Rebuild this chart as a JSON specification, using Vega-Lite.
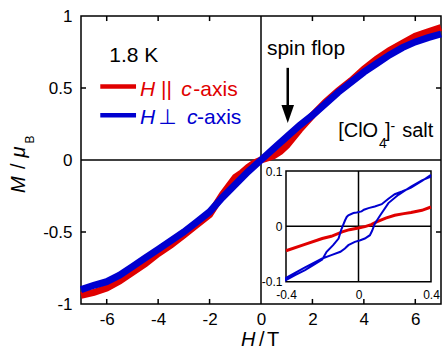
{
  "$schema": "https://vega.github.io/schema/vega-lite/v6.json",
  "width": 360,
  "height": 288,
  "autosize": {"type": "none"},
  "padding": {"left": 81, "top": 16, "right": 4, "bottom": 53},
  "background": "white",
  "config": {
    "locale": {"number": {"decimal": ".", "thousands": ",", "grouping": [3], "currency": ["$", ""], "minus": "-"}},
    "view": {"stroke": "black", "strokeWidth": 1.5},
    "font": "Liberation Sans",
    "axis": {"grid": false, "ticks": false, "domain": false, "labelColor": "black", "labelFont": "Liberation Sans", "labelFlush": false, "labelOverlap": false, "title": null, "format": "~g"}
  },
  "datasets": {
    "red": [
      {"H": -7, "M": -0.94}, {"H": -6.5, "M": -0.92}, {"H": -6, "M": -0.89}, {"H": -5.5, "M": -0.84},
      {"H": -5, "M": -0.78}, {"H": -4.5, "M": -0.72}, {"H": -4, "M": -0.65}, {"H": -3.5, "M": -0.59},
      {"H": -3, "M": -0.52}, {"H": -2.5, "M": -0.45}, {"H": -2, "M": -0.38}, {"H": -1.5, "M": -0.24},
      {"H": -1, "M": -0.12}, {"H": -0.75, "M": -0.09}, {"H": -0.5, "M": -0.05}, {"H": -0.25, "M": -0.02},
      {"H": 0, "M": 0}, {"H": 0.25, "M": 0.015}, {"H": 0.5, "M": 0.03}, {"H": 0.75, "M": 0.06},
      {"H": 1, "M": 0.1}, {"H": 1.5, "M": 0.21}, {"H": 2, "M": 0.31}, {"H": 2.5, "M": 0.4},
      {"H": 3, "M": 0.48}, {"H": 3.5, "M": 0.55}, {"H": 4, "M": 0.63}, {"H": 4.5, "M": 0.7},
      {"H": 5, "M": 0.76}, {"H": 5.5, "M": 0.81}, {"H": 6, "M": 0.86}, {"H": 6.5, "M": 0.89}, {"H": 7, "M": 0.92}
    ],
    "blue": [
      {"H": -7, "M": -0.9}, {"H": -6.5, "M": -0.87}, {"H": -6, "M": -0.845}, {"H": -5.5, "M": -0.8},
      {"H": -5, "M": -0.74}, {"H": -4.5, "M": -0.68}, {"H": -4, "M": -0.62}, {"H": -3.5, "M": -0.56},
      {"H": -3, "M": -0.5}, {"H": -2.5, "M": -0.43}, {"H": -2, "M": -0.36}, {"H": -1.5, "M": -0.26},
      {"H": -1, "M": -0.17}, {"H": -0.5, "M": -0.08}, {"H": 0, "M": 0}, {"H": 0.5, "M": 0.08},
      {"H": 1, "M": 0.16}, {"H": 1.5, "M": 0.24}, {"H": 2, "M": 0.31}, {"H": 2.5, "M": 0.39},
      {"H": 3, "M": 0.47}, {"H": 3.5, "M": 0.54}, {"H": 4, "M": 0.61}, {"H": 4.5, "M": 0.67},
      {"H": 5, "M": 0.73}, {"H": 5.5, "M": 0.78}, {"H": 6, "M": 0.82}, {"H": 6.5, "M": 0.85}, {"H": 7, "M": 0.875}
    ],
    "ired": [
      {"i": 0, "h": -0.4, "m": -0.044}, {"i": 1, "h": -0.3, "m": -0.033}, {"i": 2, "h": -0.2, "m": -0.022},
      {"i": 3, "h": -0.15, "m": -0.018}, {"i": 4, "h": -0.09, "m": -0.01}, {"i": 5, "h": -0.05, "m": -0.006},
      {"i": 6, "h": 0, "m": -0.003}, {"i": 7, "h": 0.04, "m": 0.0}, {"i": 8, "h": 0.07, "m": 0.003},
      {"i": 9, "h": 0.1, "m": 0.008}, {"i": 10, "h": 0.15, "m": 0.015}, {"i": 11, "h": 0.2, "m": 0.02},
      {"i": 12, "h": 0.25, "m": 0.023}, {"i": 13, "h": 0.29, "m": 0.025}, {"i": 14, "h": 0.35, "m": 0.029},
      {"i": 15, "h": 0.4, "m": 0.035}
    ],
    "iblue": [
      {"i": 0, "h": 0.4, "m": 0.093}, {"i": 1, "h": 0.35, "m": 0.082}, {"i": 2, "h": 0.29, "m": 0.07},
      {"i": 3, "h": 0.24, "m": 0.063}, {"i": 4, "h": 0.2, "m": 0.058}, {"i": 5, "h": 0.165, "m": 0.05},
      {"i": 6, "h": 0.128, "m": 0.04}, {"i": 7, "h": 0.09, "m": 0.036}, {"i": 8, "h": 0.055, "m": 0.033},
      {"i": 9, "h": 0.03, "m": 0.03}, {"i": 10, "h": 0.017, "m": 0.027}, {"i": 11, "h": -0.01, "m": 0.025},
      {"i": 12, "h": -0.028, "m": 0.024}, {"i": 13, "h": -0.056, "m": 0.02}, {"i": 14, "h": -0.065, "m": 0.017},
      {"i": 15, "h": -0.074, "m": 0.011}, {"i": 16, "h": -0.085, "m": 0.002}, {"i": 17, "h": -0.095, "m": -0.006},
      {"i": 18, "h": -0.11, "m": -0.022}, {"i": 19, "h": -0.14, "m": -0.034}, {"i": 20, "h": -0.176, "m": -0.046},
      {"i": 21, "h": -0.2, "m": -0.06}, {"i": 22, "h": -0.25, "m": -0.07}, {"i": 23, "h": -0.295, "m": -0.079},
      {"i": 24, "h": -0.35, "m": -0.088}, {"i": 25, "h": -0.4, "m": -0.097}, {"i": 26, "h": -0.4, "m": -0.093},
      {"i": 27, "h": -0.3, "m": -0.075}, {"i": 28, "h": -0.2, "m": -0.058}, {"i": 29, "h": -0.15, "m": -0.052},
      {"i": 30, "h": -0.1, "m": -0.046}, {"i": 31, "h": -0.075, "m": -0.04}, {"i": 32, "h": -0.056, "m": -0.034},
      {"i": 33, "h": -0.02, "m": -0.028}, {"i": 34, "h": 0.01, "m": -0.025}, {"i": 35, "h": 0.035, "m": -0.022},
      {"i": 36, "h": 0.063, "m": -0.016}, {"i": 37, "h": 0.075, "m": -0.008}, {"i": 38, "h": 0.09, "m": 0.005},
      {"i": 39, "h": 0.12, "m": 0.02}, {"i": 40, "h": 0.165, "m": 0.042}, {"i": 41, "h": 0.22, "m": 0.057},
      {"i": 42, "h": 0.29, "m": 0.072}, {"i": 43, "h": 0.35, "m": 0.083}, {"i": 44, "h": 0.4, "m": 0.09}
    ],
    "ticksX": [{"H": -6}, {"H": -4}, {"H": -2}, {"H": 2}, {"H": 4}, {"H": 6}],
    "ticksY": [{"M": -0.5}, {"M": 0.5}]
  },
  "layer": [
    {
      "data": {"values": [{"H": 0, "M": 0}]},
      "mark": {"type": "rule", "color": "black", "strokeWidth": 1.5},
      "encoding": {
        "x": {"field": "H", "type": "quantitative", "scale": {"domain": [-7, 7], "nice": false, "zero": false},
          "axis": {"orient": "bottom", "values": [-6, -4, -2, 0, 2, 4, 6], "labelFontSize": 17, "labelPadding": 7}},
        "y": {"datum": -1, "type": "quantitative", "scale": {"domain": [-1, 1], "nice": false, "zero": false},
          "axis": {"orient": "left", "values": [-1, -0.5, 0, 0.5, 1], "labelFontSize": 17, "labelPadding": 9}},
        "y2": {"datum": 1}
      }
    },
    {
      "data": {"values": [{"H": 0, "M": 0}]},
      "mark": {"type": "rule", "color": "black", "strokeWidth": 1.5},
      "encoding": {
        "y": {"field": "M", "type": "quantitative", "scale": {"domain": [-1, 1], "nice": false, "zero": false}, "axis": null},
        "x": {"datum": -7, "type": "quantitative", "scale": {"domain": [-7, 7], "nice": false, "zero": false}, "axis": null},
        "x2": {"datum": 7}
      }
    },
    {
      "data": {"name": "ticksX"},
      "mark": {"type": "rule", "color": "black", "strokeWidth": 1.5},
      "encoding": {
        "x": {"field": "H", "type": "quantitative", "scale": {"domain": [-7, 7], "nice": false, "zero": false}, "axis": null},
        "y": {"datum": -1, "type": "quantitative", "scale": {"domain": [-1, 1], "nice": false, "zero": false}, "axis": null},
        "y2": {"datum": -0.965}
      }
    },
    {
      "data": {"name": "ticksX"},
      "mark": {"type": "rule", "color": "black", "strokeWidth": 1.5},
      "encoding": {
        "x": {"field": "H", "type": "quantitative", "scale": {"domain": [-7, 7], "nice": false, "zero": false}, "axis": null},
        "y": {"datum": 1, "type": "quantitative", "scale": {"domain": [-1, 1], "nice": false, "zero": false}, "axis": null},
        "y2": {"datum": 0.965}
      }
    },
    {
      "data": {"name": "ticksY"},
      "mark": {"type": "rule", "color": "black", "strokeWidth": 1.5},
      "encoding": {
        "y": {"field": "M", "type": "quantitative", "scale": {"domain": [-1, 1], "nice": false, "zero": false}, "axis": null},
        "x": {"datum": -7, "type": "quantitative", "scale": {"domain": [-7, 7], "nice": false, "zero": false}, "axis": null},
        "x2": {"datum": -6.805}
      }
    },
    {
      "data": {"name": "ticksY"},
      "mark": {"type": "rule", "color": "black", "strokeWidth": 1.5},
      "encoding": {
        "y": {"field": "M", "type": "quantitative", "scale": {"domain": [-1, 1], "nice": false, "zero": false}, "axis": null},
        "x": {"datum": 7, "type": "quantitative", "scale": {"domain": [-7, 7], "nice": false, "zero": false}, "axis": null},
        "x2": {"datum": 6.805}
      }
    },
    {
      "data": {"name": "red"},
      "mark": {"type": "line", "color": "#e00000", "strokeWidth": 7},
      "encoding": {
        "x": {"field": "H", "type": "quantitative", "scale": {"domain": [-7, 7], "nice": false, "zero": false}, "axis": null},
        "y": {"field": "M", "type": "quantitative", "scale": {"domain": [-1, 1], "nice": false, "zero": false}, "axis": null}
      }
    },
    {
      "data": {"name": "blue"},
      "mark": {"type": "line", "color": "#0000d0", "strokeWidth": 7},
      "encoding": {
        "x": {"field": "H", "type": "quantitative", "scale": {"domain": [-7, 7], "nice": false, "zero": false}, "axis": null},
        "y": {"field": "M", "type": "quantitative", "scale": {"domain": [-1, 1], "nice": false, "zero": false}, "axis": null}
      }
    },
    {
      "data": {"values": [{"H0": -6.25, "H1": -4.86, "M": 0.51}]},
      "mark": {"type": "rule", "color": "#e00000", "strokeWidth": 4.5},
      "encoding": {
        "x": {"field": "H0", "type": "quantitative", "scale": {"domain": [-7, 7], "nice": false, "zero": false}, "axis": null},
        "x2": {"field": "H1"},
        "y": {"field": "M", "type": "quantitative", "scale": {"domain": [-1, 1], "nice": false, "zero": false}, "axis": null}
      }
    },
    {
      "data": {"values": [{"H0": -6.25, "H1": -4.86, "M": 0.31}]},
      "mark": {"type": "rule", "color": "#0000d0", "strokeWidth": 4.5},
      "encoding": {
        "x": {"field": "H0", "type": "quantitative", "scale": {"domain": [-7, 7], "nice": false, "zero": false}, "axis": null},
        "x2": {"field": "H1"},
        "y": {"field": "M", "type": "quantitative", "scale": {"domain": [-1, 1], "nice": false, "zero": false}, "axis": null}
      }
    },
    {
      "data": {"values": [{"H": -5.9, "M": 0.678, "t": "1.8 K"}, {"H": 0.23, "M": 0.729, "t": "spin flop"}]},
      "mark": {"type": "text", "align": "left", "baseline": "alphabetic", "fontSize": 21, "color": "black"},
      "encoding": {
        "x": {"field": "H", "type": "quantitative", "scale": {"domain": [-7, 7], "nice": false, "zero": false}, "axis": null},
        "y": {"field": "M", "type": "quantitative", "scale": {"domain": [-1, 1], "nice": false, "zero": false}, "axis": null},
        "text": {"field": "t"}
      }
    },
    {
      "data": {"values": [{"H": -4.71, "M": 0.447, "t": "H"}, {"H": -3.1, "M": 0.447, "t": "c"}]},
      "mark": {"type": "text", "align": "left", "baseline": "alphabetic", "fontSize": 21, "fontStyle": "italic", "color": "#e00000"},
      "encoding": {
        "x": {"field": "H", "type": "quantitative", "scale": {"domain": [-7, 7], "nice": false, "zero": false}, "axis": null},
        "y": {"field": "M", "type": "quantitative", "scale": {"domain": [-1, 1], "nice": false, "zero": false}, "axis": null},
        "text": {"field": "t"}
      }
    },
    {
      "data": {"values": [{"H": -3.89, "M": 0.447, "t": "||"}, {"H": -2.63, "M": 0.447, "t": "-axis"}]},
      "mark": {"type": "text", "align": "left", "baseline": "alphabetic", "fontSize": 21, "color": "#e00000"},
      "encoding": {
        "x": {"field": "H", "type": "quantitative", "scale": {"domain": [-7, 7], "nice": false, "zero": false}, "axis": null},
        "y": {"field": "M", "type": "quantitative", "scale": {"domain": [-1, 1], "nice": false, "zero": false}, "axis": null},
        "text": {"field": "t"}
      }
    },
    {
      "data": {"values": [{"H": -4.71, "M": 0.248, "t": "H"}, {"H": -2.88, "M": 0.248, "t": "c"}]},
      "mark": {"type": "text", "align": "left", "baseline": "alphabetic", "fontSize": 21, "fontStyle": "italic", "color": "#0000d0"},
      "encoding": {
        "x": {"field": "H", "type": "quantitative", "scale": {"domain": [-7, 7], "nice": false, "zero": false}, "axis": null},
        "y": {"field": "M", "type": "quantitative", "scale": {"domain": [-1, 1], "nice": false, "zero": false}, "axis": null},
        "text": {"field": "t"}
      }
    },
    {
      "data": {"values": [{"H": -4.0, "M": 0.248, "t": "⊥"}, {"H": -2.49, "M": 0.248, "t": "-axis"}]},
      "mark": {"type": "text", "align": "left", "baseline": "alphabetic", "fontSize": 21, "font": "Liberation Sans, DejaVu Sans", "color": "#0000d0"},
      "encoding": {
        "x": {"field": "H", "type": "quantitative", "scale": {"domain": [-7, 7], "nice": false, "zero": false}, "axis": null},
        "y": {"field": "M", "type": "quantitative", "scale": {"domain": [-1, 1], "nice": false, "zero": false}, "axis": null},
        "text": {"field": "t"}
      }
    },
    {
      "data": {"values": [{"H": 3.0, "M": 0.158, "t": "[ClO"}, {"H": 4.82, "M": 0.158, "t": "]"}, {"H": 5.49, "M": 0.158, "t": "salt"}]},
      "mark": {"type": "text", "align": "left", "baseline": "alphabetic", "fontSize": 20, "color": "black"},
      "encoding": {
        "x": {"field": "H", "type": "quantitative", "scale": {"domain": [-7, 7], "nice": false, "zero": false}, "axis": null},
        "y": {"field": "M", "type": "quantitative", "scale": {"domain": [-1, 1], "nice": false, "zero": false}, "axis": null},
        "text": {"field": "t"}
      }
    },
    {
      "data": {"values": [{"H": 4.59, "M": 0.083, "t": "4"}, {"H": 5.04, "M": 0.2, "t": "-"}]},
      "mark": {"type": "text", "align": "left", "baseline": "alphabetic", "fontSize": 14, "color": "black"},
      "encoding": {
        "x": {"field": "H", "type": "quantitative", "scale": {"domain": [-7, 7], "nice": false, "zero": false}, "axis": null},
        "y": {"field": "M", "type": "quantitative", "scale": {"domain": [-1, 1], "nice": false, "zero": false}, "axis": null},
        "text": {"field": "t"}
      }
    },
    {
      "data": {"values": [{"H": 1.04, "M0": 0.64, "M1": 0.34}]},
      "mark": {"type": "rule", "color": "black", "strokeWidth": 2.5},
      "encoding": {
        "x": {"field": "H", "type": "quantitative", "scale": {"domain": [-7, 7], "nice": false, "zero": false}, "axis": null},
        "y": {"field": "M0", "type": "quantitative", "scale": {"domain": [-1, 1], "nice": false, "zero": false}, "axis": null},
        "y2": {"field": "M1"}
      }
    },
    {
      "data": {"values": [{"H": 1.04, "M": 0.319}]},
      "mark": {"type": "point", "shape": "M-0.7,-1L0.7,-1L0,1Z", "size": 324, "filled": true, "color": "black", "opacity": 1},
      "encoding": {
        "x": {"field": "H", "type": "quantitative", "scale": {"domain": [-7, 7], "nice": false, "zero": false}, "axis": null},
        "y": {"field": "M", "type": "quantitative", "scale": {"domain": [-1, 1], "nice": false, "zero": false}, "axis": null}
      }
    },
    {
      "data": {"values": [{"H": -0.78, "M": -1.292, "t": "H"}]},
      "mark": {"type": "text", "align": "left", "baseline": "alphabetic", "fontSize": 20, "fontStyle": "italic", "color": "black"},
      "encoding": {
        "x": {"field": "H", "type": "quantitative", "scale": {"domain": [-7, 7], "nice": false, "zero": false}, "axis": null},
        "y": {"field": "M", "type": "quantitative", "scale": {"domain": [-1, 1], "nice": false, "zero": false}, "axis": null},
        "text": {"field": "t"}
      }
    },
    {
      "data": {"values": [{"H": -0.08, "M": -1.292, "t": "/"}, {"H": 0.23, "M": -1.292, "t": "T"}]},
      "mark": {"type": "text", "align": "left", "baseline": "alphabetic", "fontSize": 20, "color": "black"},
      "encoding": {
        "x": {"field": "H", "type": "quantitative", "scale": {"domain": [-7, 7], "nice": false, "zero": false}, "axis": null},
        "y": {"field": "M", "type": "quantitative", "scale": {"domain": [-1, 1], "nice": false, "zero": false}, "axis": null},
        "text": {"field": "t"}
      }
    },
    {
      "data": {"values": [{"H": -9.18, "M": -0.229, "t": "M"}, {"H": -9.18, "M": 0.017, "t": "μ"}]},
      "mark": {"type": "text", "align": "left", "baseline": "alphabetic", "angle": 270, "fontSize": 20, "fontStyle": "italic", "color": "black"},
      "encoding": {
        "x": {"field": "H", "type": "quantitative", "scale": {"domain": [-7, 7], "nice": false, "zero": false}, "axis": null},
        "y": {"field": "M", "type": "quantitative", "scale": {"domain": [-1, 1], "nice": false, "zero": false}, "axis": null},
        "text": {"field": "t"}
      }
    },
    {
      "data": {"values": [{"H": -9.18, "M": -0.063, "t": "/"}]},
      "mark": {"type": "text", "align": "left", "baseline": "alphabetic", "angle": 270, "fontSize": 20, "color": "black"},
      "encoding": {
        "x": {"field": "H", "type": "quantitative", "scale": {"domain": [-7, 7], "nice": false, "zero": false}, "axis": null},
        "y": {"field": "M", "type": "quantitative", "scale": {"domain": [-1, 1], "nice": false, "zero": false}, "axis": null},
        "text": {"field": "t"}
      }
    },
    {
      "data": {"values": [{"H": -8.83, "M": 0.115, "t": "B"}]},
      "mark": {"type": "text", "align": "left", "baseline": "alphabetic", "angle": 270, "fontSize": 12, "color": "black"},
      "encoding": {
        "x": {"field": "H", "type": "quantitative", "scale": {"domain": [-7, 7], "nice": false, "zero": false}, "axis": null},
        "y": {"field": "M", "type": "quantitative", "scale": {"domain": [-1, 1], "nice": false, "zero": false}, "axis": null},
        "text": {"field": "t"}
      }
    },
    {
      "data": {"values": [{"h0": -0.4, "h1": 0.4, "m0": -0.1, "m1": 0.1}]},
      "mark": {"type": "rect", "fill": "white", "stroke": "black", "strokeWidth": 1.5},
      "encoding": {
        "x": {"field": "h0", "type": "quantitative", "scale": {"domain": [-0.4, 0.4], "range": [205, 350], "nice": false, "zero": false},
          "axis": {"orient": "bottom", "offset": -22.3, "values": [-0.4, 0, 0.4], "labelFontSize": 12, "labelPadding": 8}},
        "x2": {"field": "h1"},
        "y": {"field": "m0", "type": "quantitative", "scale": {"domain": [-0.1, 0.1], "range": [265.7, 155], "nice": false, "zero": false},
          "axis": {"orient": "left", "offset": -205, "values": [-0.1, 0, 0.1], "labelFontSize": 12, "labelPadding": 4}},
        "y2": {"field": "m1"}
      }
    },
    {
      "data": {"values": [{"h": 0, "m": 0}]},
      "mark": {"type": "rule", "color": "black", "strokeWidth": 1.5},
      "encoding": {
        "x": {"field": "h", "type": "quantitative", "scale": {"domain": [-0.4, 0.4], "range": [205, 350], "nice": false, "zero": false}, "axis": null},
        "y": {"datum": -0.1, "type": "quantitative", "scale": {"domain": [-0.1, 0.1], "range": [265.7, 155], "nice": false, "zero": false}, "axis": null},
        "y2": {"datum": 0.1}
      }
    },
    {
      "data": {"values": [{"h": 0, "m": 0}]},
      "mark": {"type": "rule", "color": "black", "strokeWidth": 1.5},
      "encoding": {
        "y": {"field": "m", "type": "quantitative", "scale": {"domain": [-0.1, 0.1], "range": [265.7, 155], "nice": false, "zero": false}, "axis": null},
        "x": {"datum": -0.4, "type": "quantitative", "scale": {"domain": [-0.4, 0.4], "range": [205, 350], "nice": false, "zero": false}, "axis": null},
        "x2": {"datum": 0.4}
      }
    },
    {
      "data": {"name": "ired"},
      "mark": {"type": "line", "color": "#e00000", "strokeWidth": 3},
      "encoding": {
        "x": {"field": "h", "type": "quantitative", "scale": {"domain": [-0.4, 0.4], "range": [205, 350], "nice": false, "zero": false}, "axis": null},
        "y": {"field": "m", "type": "quantitative", "scale": {"domain": [-0.1, 0.1], "range": [265.7, 155], "nice": false, "zero": false}, "axis": null},
        "order": {"field": "i"}
      }
    },
    {
      "data": {"name": "iblue"},
      "mark": {"type": "line", "color": "#0000d0", "strokeWidth": 2},
      "encoding": {
        "x": {"field": "h", "type": "quantitative", "scale": {"domain": [-0.4, 0.4], "range": [205, 350], "nice": false, "zero": false}, "axis": null},
        "y": {"field": "m", "type": "quantitative", "scale": {"domain": [-0.1, 0.1], "range": [265.7, 155], "nice": false, "zero": false}, "axis": null},
        "order": {"field": "i"}
      }
    }
  ],
  "resolve": {"scale": {"x": "independent", "y": "independent"}, "axis": {"x": "independent", "y": "independent"}}
}
